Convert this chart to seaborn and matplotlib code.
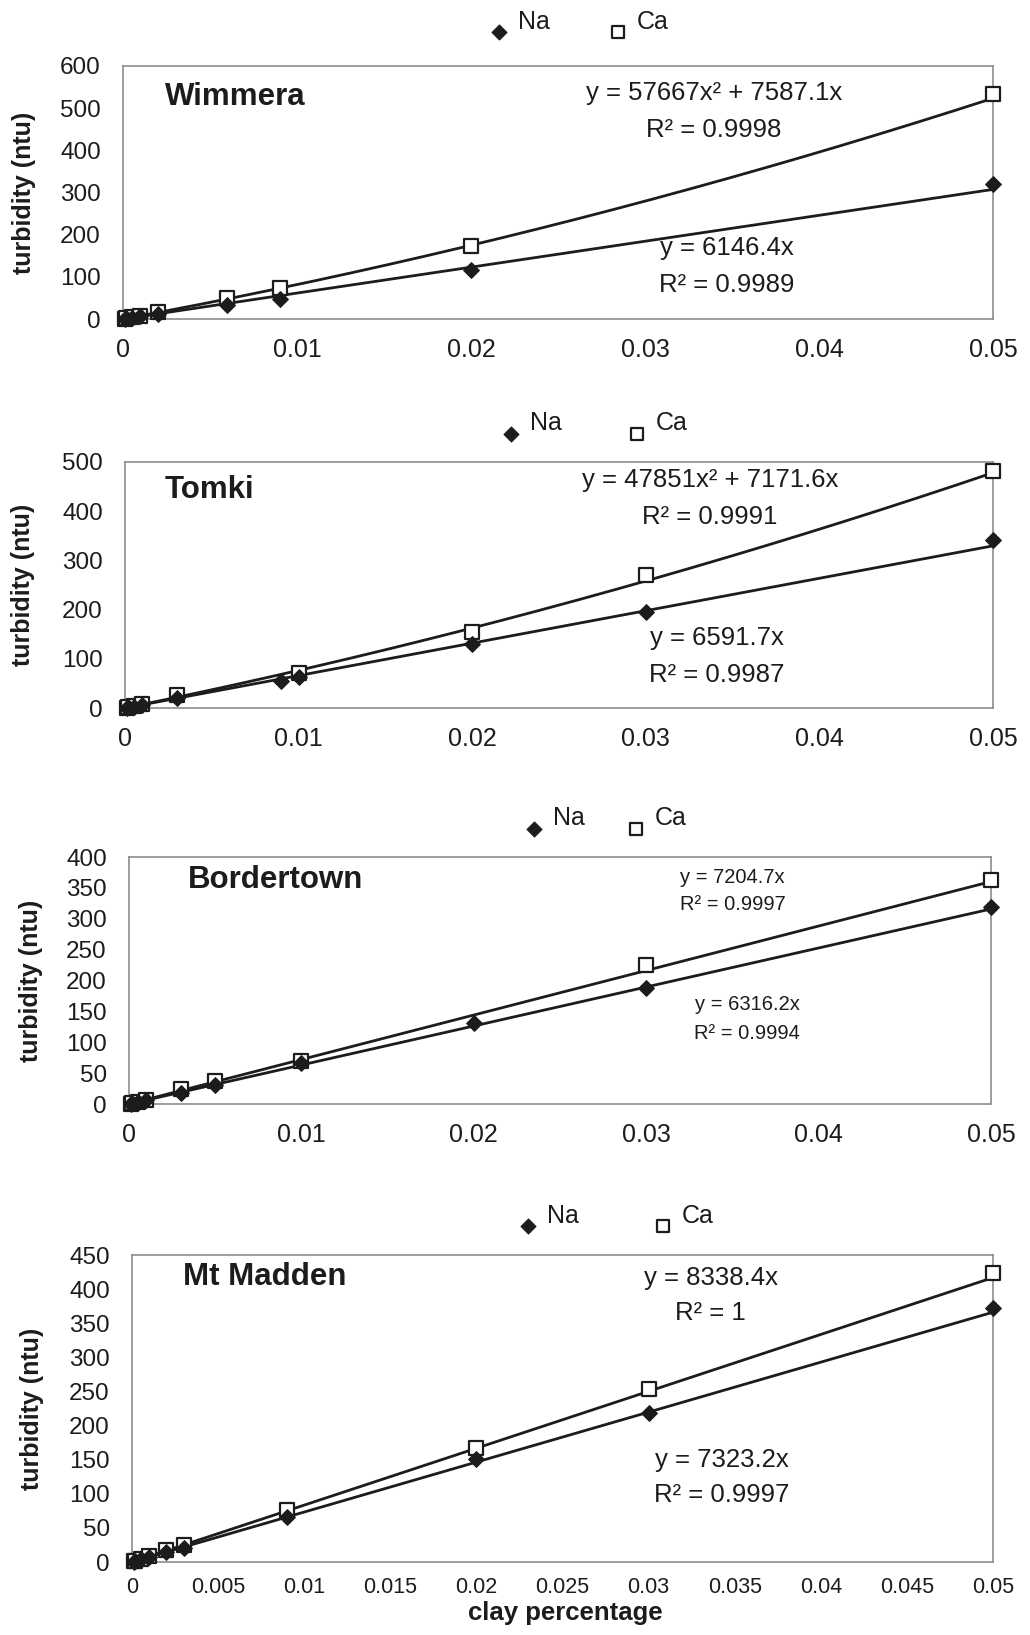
import numpy as np
import pandas as pd
import matplotlib
matplotlib.use("Agg")
import matplotlib.pyplot as plt
import seaborn as sns

sns.set_theme(style="white")
plt.rcParams["font.family"] = ["Liberation Sans", "DejaVu Sans"]

# ---------------- measured turbidity (ntu) vs clay percentage ----------------
# Wimmera
wim_x_na = [0.0001, 0.0002, 0.0005, 0.001, 0.002, 0.006, 0.009, 0.02, 0.05]
wim_y_na = [0.6, 1.2, 3, 6, 12, 33, 48, 116, 321]
wim_x_ca = [0.0001, 0.0002, 0.0005, 0.001, 0.002, 0.006, 0.009, 0.02, 0.05]
wim_y_ca = [0.8, 1.5, 4, 8, 16, 50, 73, 173, 533]

# Tomki
tom_x_na = [0.0001, 0.0002, 0.0005, 0.001, 0.003, 0.009, 0.01, 0.02, 0.03, 0.05]
tom_y_na = [0.7, 1.3, 3, 7, 20, 55, 64, 130, 195, 341]
tom_x_ca = [0.0001, 0.0002, 0.0005, 0.001, 0.003, 0.01, 0.02, 0.03, 0.05]
tom_y_ca = [0.8, 1.6, 4, 8, 26, 72, 155, 271, 481]

# Bordertown
bor_x_na = [0.0001, 0.0002, 0.0005, 0.001, 0.003, 0.005, 0.01, 0.02, 0.03, 0.05]
bor_y_na = [0.6, 1.3, 3, 6, 18, 30, 66, 131, 188, 319]
bor_x_ca = [0.0001, 0.0002, 0.0005, 0.001, 0.003, 0.005, 0.01, 0.03, 0.05]
bor_y_ca = [0.7, 1.4, 3.6, 7, 24, 38, 70, 225, 363]

# Mt Madden
mad_x_na = [0.0001, 0.0002, 0.0005, 0.001, 0.002, 0.003, 0.009, 0.02, 0.03, 0.05]
mad_y_na = [0.7, 1.5, 3.7, 7, 14, 21, 66, 151, 218, 372]
mad_x_ca = [0.0001, 0.0002, 0.0005, 0.001, 0.002, 0.003, 0.009, 0.02, 0.03, 0.05]
mad_y_ca = [0.8, 1.7, 4.2, 8.5, 17, 25, 76, 167, 253, 424]

# fitted trendlines y = a*x^2 + b*x  (Na, Ca)
wim_fit = [(0.0, 6146.4), (57667.0, 7587.1)]
tom_fit = [(0.0, 6591.7), (47851.0, 7171.6)]
bor_fit = [(0.0, 6316.2), (0.0, 7204.7)]
mad_fit = [(0.0, 7323.2), (0.0, 8338.4)]

wim_eq = [("y = 6146.4x", "R² = 0.9989"), ("y = 57667x² + 7587.1x", "R² = 0.9998")]
tom_eq = [("y = 6591.7x", "R² = 0.9987"), ("y = 47851x² + 7171.6x", "R² = 0.9991")]
bor_eq = [("y = 6316.2x", "R² = 0.9994"), ("y = 7204.7x", "R² = 0.9997")]
mad_eq = [("y = 7323.2x", "R² = 0.9997"), ("y = 8338.4x", "R² = 1")]

site_names = ["Wimmera", "Tomki", "Bordertown", "Mt Madden"]
y_max = [600, 500, 400, 450]
y_step = [100, 100, 50, 50]
x_step = [0.01, 0.01, 0.01, 0.005]

# ---------------- layout (pixels on a 1030 x 1635 canvas) ----------------
W, H = 1030, 1635
boxes = [(123, 319, 870, 253), (125, 708, 868, 246),
         (129, 1104, 862, 247), (132, 1562, 861, 307)]
title_pos = [(0.048, 0.877), (0.046, 0.886), (0.068, 0.907), (0.059, 0.928)]
eq_pos = [  # (Na: cx, y1, y2), (Ca: cx, y1, y2)
    [(0.694, 0.281, 0.134), (0.679, 0.893, 0.747)],
    [(0.682, 0.285, 0.134), (0.674, 0.927, 0.776)],
    [(0.717, 0.401, 0.287), (0.700, 0.915, 0.806)],
    [(0.685, 0.332, 0.218), (0.672, 0.925, 0.811)],
]
eq_size = [18.5, 18.5, 14.5, 18.5]
legend_pos = [(0.524, 1.175), (0.541, 1.157), (0.553, 1.156), (0.562, 1.128)]
legend_colsp = [2.35, 2.6, 1.65, 2.95]
ylabel_x = [24, 23, 31, 32]

INK = "#1c1c1c"
GRID = "#8c8c8c"

fig = plt.figure(figsize=(W / 100, H / 100), dpi=100)
fig.patch.set_facecolor("white")

panels = [
    (wim_x_na, wim_y_na, wim_x_ca, wim_y_ca, wim_fit, wim_eq),
    (tom_x_na, tom_y_na, tom_x_ca, tom_y_ca, tom_fit, tom_eq),
    (bor_x_na, bor_y_na, bor_x_ca, bor_y_ca, bor_fit, bor_eq),
    (mad_x_na, mad_y_na, mad_x_ca, mad_y_ca, mad_fit, mad_eq),
]

for i, (xna, yna, xca, yca, fits, eqs) in enumerate(panels):
    x0, yb, w, h = boxes[i]
    ax = fig.add_axes([x0 / W, 1 - yb / H, w / W, h / H])
    ax.set_facecolor("white")

    # trendlines
    xs = np.linspace(0, 0.05, 300)
    for a, b in fits:
        sns.lineplot(x=xs, y=a * xs ** 2 + b * xs, ax=ax, color=INK,
                     lw=2.0, zorder=2, legend=False)

    # measured points
    df_na = pd.DataFrame({"clay": xna, "turb": yna})
    df_ca = pd.DataFrame({"clay": xca, "turb": yca})
    sns.scatterplot(data=df_na, x="clay", y="turb", ax=ax, marker="D", s=64,
                    color=INK, edgecolor=INK, linewidth=0.8, zorder=4,
                    clip_on=False, label="Na")
    sns.scatterplot(data=df_ca, x="clay", y="turb", ax=ax, marker="s", s=96,
                    facecolor="white", edgecolor=INK, linewidth=1.6, zorder=3,
                    clip_on=False, label="Ca")

    ax.set_xlim(0, 0.05)
    ax.set_ylim(0, y_max[i])
    ax.set_yticks(np.arange(0, y_max[i] + 1, y_step[i]))
    xt = np.round(np.arange(0, 0.05 + 1e-9, x_step[i]), 3)
    ax.set_xticks(xt)
    ax.set_xticklabels(["0" if v == 0 else f"{v:g}" for v in xt])
    ax.set_yticklabels([f"{int(v)}" for v in ax.get_yticks()])

    for side, sp in ax.spines.items():
        sp.set_visible(True)
        sp.set_color(GRID)
        sp.set_linewidth(1.2)
    ax.tick_params(axis="both", direction="inout", length=12, width=1.1,
                   color=GRID, labelcolor=INK)
    ax.tick_params(axis="y", labelsize=17.5, pad=10)
    if i == 3:
        ax.tick_params(axis="x", labelsize=15.5, pad=4.5)
    else:
        ax.tick_params(axis="x", labelsize=18, pad=8)

    # axis labels
    ax.set_ylabel("turbidity (ntu)", fontsize=18, fontweight="bold", color=INK)
    ax.yaxis.label.set_va("center")
    ax.yaxis.set_label_coords((ylabel_x[i] - x0) / w, 0.5)
    if i == 3:
        ax.set_xlabel("clay percentage", fontsize=18.5, fontweight="bold",
                      color=INK)
        ax.xaxis.label.set_va("center")
        ax.xaxis.set_label_coords((565 - x0) / w, -(1613 - yb) / h)
    else:
        ax.set_xlabel("")

    # site name
    ax.text(title_pos[i][0], title_pos[i][1], site_names[i],
            transform=ax.transAxes, fontsize=22.5, fontweight="bold",
            color=INK, ha="left", va="center")

    # trendline equations
    for (cx, y1, y2), (l1, l2) in zip(eq_pos[i], eqs):
        ax.text(cx, y1, l1, transform=ax.transAxes, fontsize=eq_size[i],
                color=INK, ha="center", va="center")
        ax.text(cx, y2, l2, transform=ax.transAxes, fontsize=eq_size[i],
                color=INK, ha="center", va="center")

    # legend above the plot area
    leg = ax.legend(loc="center", bbox_to_anchor=legend_pos[i], ncol=2,
                    frameon=False, fontsize=18, handlelength=0.8,
                    handletextpad=0.35, columnspacing=legend_colsp[i],
                    markerscale=0.95, scatteryoffsets=[-0.2],
                    borderaxespad=0, borderpad=0)
    for t in leg.get_texts():
        t.set_color(INK)

fig.savefig("out.png", dpi=100, facecolor="white")
